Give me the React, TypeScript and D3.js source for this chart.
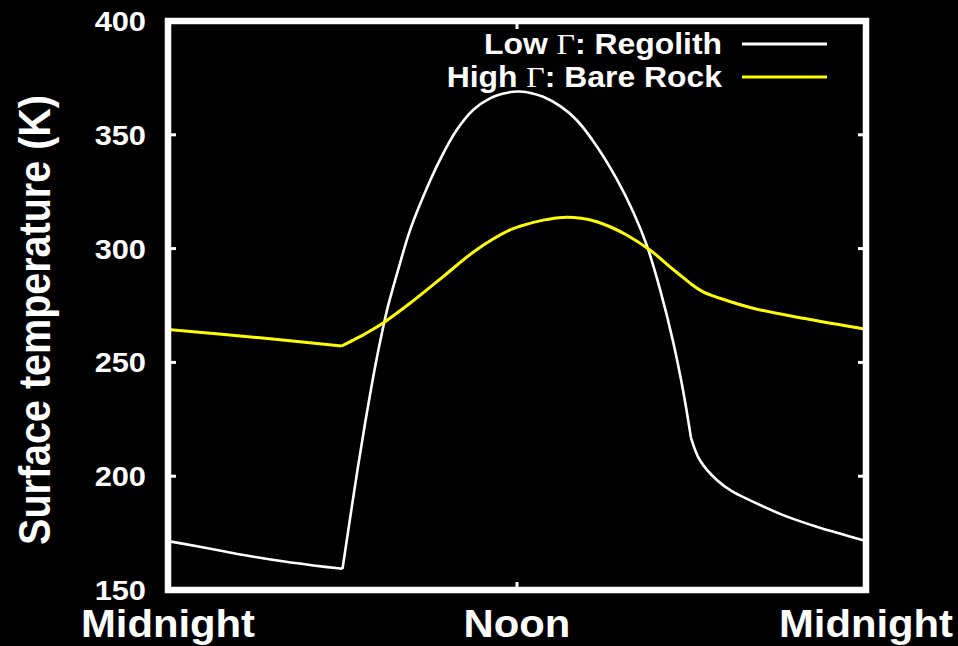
import React from 'react'
import * as d3 from 'd3'

// hours since midnight, temperature in K
const regolithHours = [0, 1, 2, 3, 4, 5, 6, 6.53, 6.84, 7.12, 7.39, 7.56, 7.92, 8.32, 8.78, 9.35, 9.92, 10.5, 11.07, 11.5, 11.87, 12.1, 12.5, 12.9, 13.5, 14.05, 14.74, 15.43, 16.0, 16.46, 16.92, 17.37, 17.72, 17.98, 18.29, 18.87, 19.4, 20.0, 21.15, 22.3, 23.1, 24]
const regolithTemps = [171.5, 169.2, 166.8, 164.5, 162.5, 160.8, 159.3, 204, 228, 248, 265, 274.5, 291, 308, 323, 339, 352, 361, 366, 368, 368.9, 369, 368.3, 366.7, 362.5, 356.5, 345, 330.5, 316, 301.5, 282, 259, 237, 217, 207, 198.3, 193.3, 189.5, 182.9, 177.8, 174.8, 171.5]
// sunrise / sunset corners, where the curve bends sharply
const regolithBreaks = [6, 17.98]

const rockHours = [0, 3.16, 5.97, 6.6, 7.29, 8.32, 9.46, 10.6, 11.76, 12.1, 12.9, 13.59, 14.2, 14.74, 15.2, 15.77, 16.57, 17.26, 17.95, 18.4, 18.98, 20.12, 21.84, 23.79, 24]
const rockTemps = [264.5, 260.8, 257.2, 261.3, 266.4, 276, 287.7, 299.4, 308.2, 309.8, 312.5, 313.7, 313.3, 311.8, 309.6, 306, 299.4, 292, 284.8, 281, 278.2, 273.8, 269.4, 265, 264.5]
const rockBreaks = [5.97, 17.95]

const yTicks = [150, 200, 250, 300, 350, 400]
const xTicks = [0, 12, 24]
const xTickLabels = ['Midnight', 'Noon', 'Midnight']

const seriesNames = ['Low ', ': Regolith', 'High ', ': Bare Rock']
const seriesColors = ['#ffffff', '#ffff00']

const W = 958
const H = 646
const sans = '"Liberation Sans", Arial, sans-serif'
const serif = '"Liberation Serif", "Times New Roman", serif'
const sx = 1.1 // the original text looks stretched a bit sideways

type Pt = [number, number]

// split a series at its corners so the smoothing doesn't round them off
function pieces(hours: number[], temps: number[], breaks: number[]): Pt[][] {
  const out: Pt[][] = []
  let cur: Pt[] = []
  hours.forEach((h, i) => {
    cur.push([h, temps[i]])
    if (breaks.includes(h)) {
      out.push(cur)
      cur = [[h, temps[i]]]
    }
  })
  out.push(cur)
  return out
}

export default function App() {
  const x = d3.scaleLinear().domain([0, 24]).range([168, 866])
  const y = d3.scaleLinear().domain([150, 400]).range([590, 21])

  const line = d3.line<Pt>()
    .x(d => x(d[0]))
    .y(d => y(d[1]))
    .curve(d3.curveCatmullRom.alpha(0.5))

  const regolith = pieces(regolithHours, regolithTemps, regolithBreaks)
  const rock = pieces(rockHours, rockTemps, rockBreaks)

  const [x0, x1] = x.range()
  const [yb, yt] = y.range()

  return (
    <div style={{ position: 'absolute', left: 0, top: 0, width: W, height: H, background: '#000' }}>
      <svg width={W} height={H} style={{ display: 'block' }}>
        <rect width={W} height={H} fill='#000' />
        <defs>
          <clipPath id='plot'>
            <rect x={x0} y={yt} width={x1 - x0} height={yb - yt} />
          </clipPath>
        </defs>

        <g clipPath='url(#plot)' fill='none' strokeLinejoin='round'>
          <path d={regolith.map(p => line(p)).join('')} stroke={seriesColors[0]} strokeWidth={2.6} />
          <path d={rock.map(p => line(p)).join('')} stroke={seriesColors[1]} strokeWidth={3} />
        </g>

        {/* ticks on both sides */}
        {yTicks.map(t => (
          <g key={'yt' + t} stroke='#fff' strokeWidth={3}>
            <line x1={x0} x2={x0 + 8} y1={y(t)} y2={y(t)} />
            <line x1={x1} x2={x1 - 8} y1={y(t)} y2={y(t)} />
          </g>
        ))}
        {xTicks.map(t => (
          <g key={'xt' + t} stroke='#fff' strokeWidth={3}>
            <line x1={x(t)} x2={x(t)} y1={yt} y2={yt + 8} />
            <line x1={x(t)} x2={x(t)} y1={yb} y2={yb - 8} />
          </g>
        ))}

        <rect x={x0} y={yt} width={x1 - x0} height={yb - yt} fill='none' stroke='#fff' strokeWidth={6.5} />

        {yTicks.map(t => (
          <text key={'yl' + t} transform={`translate(146,${y(t) + 10}) scale(${sx},1)`}
            textAnchor='end' fill='#fff' fontFamily={sans} fontWeight='bold' fontSize={28}>
            {t}
          </text>
        ))}

        {xTicks.map((t, i) => (
          <text key={'xl' + t} transform={`translate(${x(t)},637) scale(${sx},1)`}
            textAnchor='middle' fill='#fff' fontFamily={sans} fontWeight='bold' fontSize={38}>
            {xTickLabels[i]}
          </text>
        ))}

        <text transform={`translate(50,320) scale(${sx},1) rotate(-90)`} textAnchor='middle'
          fill='#fff' fontFamily={sans} fontWeight='bold' fontSize={39.5}>
          Surface temperature (K)
        </text>

        {/* legend */}
        {[0, 1].map(i => (
          <g key={'lg' + i}>
            <text transform={`translate(722,${54 + i * 33}) scale(${sx},1)`} textAnchor='end'
              fill='#fff' fontFamily={sans} fontWeight='bold' fontSize={29}>
              {seriesNames[i * 2]}
              <tspan fontFamily={serif} fontWeight='normal'>Γ</tspan>
              {seriesNames[i * 2 + 1]}
            </text>
            <line x1={742} x2={827} y1={44 + i * 33} y2={44 + i * 33}
              stroke={seriesColors[i]} strokeWidth={3} />
          </g>
        ))}
      </svg>
    </div>
  )
}
